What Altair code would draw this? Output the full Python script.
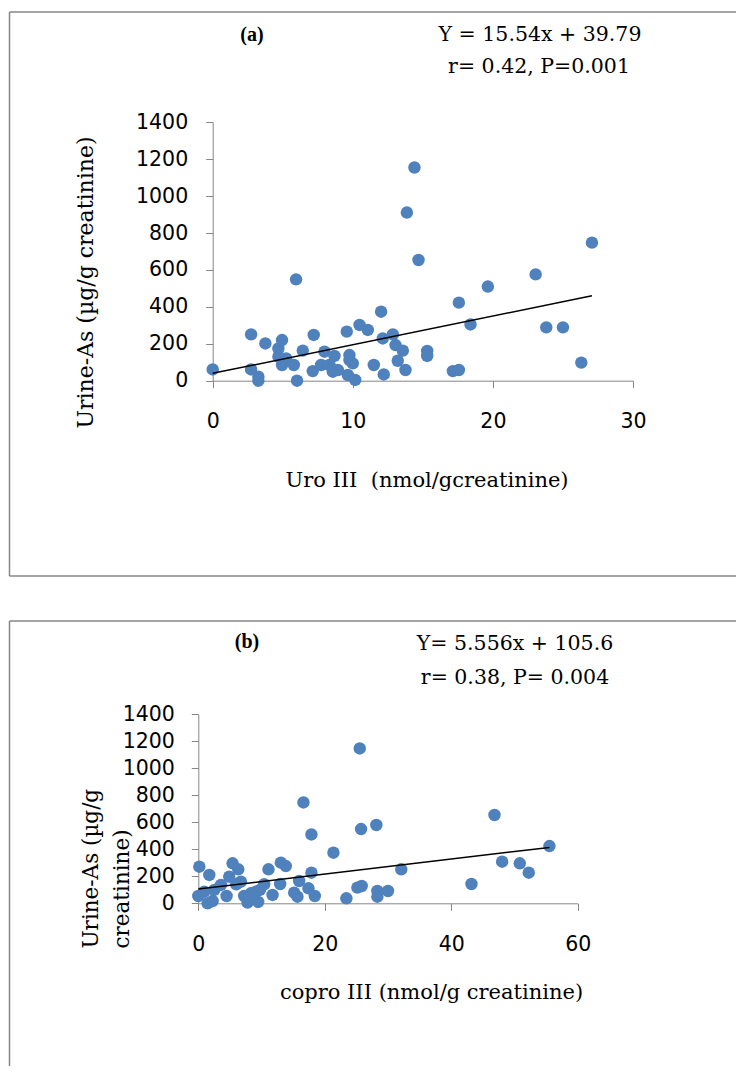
import altair as alt
import pandas as pd

# ---------------- data ----------------
# panel (a): Uro III vs urine As
uro_x = [0, 2.74, 2.74, 3.26, 3.26, 3.76, 4.69, 4.95, 4.69, 5.24, 4.95, 5.79, 5.95, 6.02,
         6.43, 7.21, 7.14, 7.98, 7.74, 8.33, 8.69, 8.93, 9.57, 9.76, 9.76, 9.64, 10.17,
         10.48, 11.07, 12.02, 11.5, 12.21, 12.14, 12.86, 13.05, 13.57, 13.21, 13.76, 13.86,
         14.4, 14.69, 15.31, 15.31, 17.14, 17.57, 17.57, 18.4, 19.64, 23.05, 23.81, 25.0,
         26.31, 27.07, 8.57, 10.0]
uro_as = [61, 251, 61, 22, 0, 202, 175, 220, 130, 121, 85, 85, 549, 0,
          163, 248, 52, 157, 85, 85, 134, 58, 266, 139, 112, 31, 4,
          302, 275, 374, 85, 34, 229, 251, 193, 163, 108, 58, 911,
          1155, 654, 161, 134, 52, 58, 423, 305, 510, 576, 289, 289,
          98, 748, 49, 94]

# panel (b): copro III vs urine As
copro_x = [0.16, 0, 0.95, 1.74, 1.47, 2.26, 2.53, 3.58, 4.47, 4.89, 5.42, 6.32, 6.74, 6.0,
           7.26, 7.79, 8.3, 9.47, 9.74, 10.42, 11.1, 11.74, 13.05, 13.84, 12.95, 15.16,
           15.68, 15.95, 16.63, 17.42, 17.89, 17.89, 18.42, 21.37, 23.42, 25.16, 25.84,
           25.53, 25.74, 28.16, 28.32, 28.32, 30.0, 32.1, 43.2, 46.84, 48.05, 50.84, 52.26,
           55.53, 9.1]
copro_as = [271, 54, 86, 210, 0, 17, 99, 136, 54, 197, 296, 252, 160, 141,
            54, 5, 74, 10, 99, 141, 252, 62, 301, 276, 143, 79,
            49, 165, 747, 111, 227, 510, 54, 375, 37, 116, 128,
            1147, 550, 580, 91, 49, 91, 252, 143, 654, 308, 296, 227,
            424, 86]

fit_a = [15.54, 39.79]      # slope, intercept
fit_b = [5.556, 105.6]

x_ticks_a = [0, 10, 20, 30]
x_ticks_b = [0, 20, 40, 60]
y_ticks = [0, 200, 400, 600, 800, 1000, 1200, 1400]

eq_a = ["Y = 15.54x + 39.79", "r= 0.42, P=0.001"]
eq_b = ["Y= 5.556x + 105.6", "r= 0.38, P= 0.004"]
panel_labels = ["(a)", "(b)"]
x_title_a = "Uro III\u00a0 (nmol/gcreatinine)"
x_title_b = "copro III (nmol/g creatinine)"
y_title_a = "Urine-As (µg/g creatinine)"
y_title_b = ["Urine-As (µg/g", "creatinine)"]

# ---------------- style ----------------
W, H = 727, 1058
BLUE = "#4F81BD"
GRAY = "#868686"
SERIF = "DejaVu Serif"
SANS = "DejaVu Sans"
ORIGIN = 8  # page margin


def panel(xs, ys, fit, xdom, xticks, xr, yr, xtitle, ytitle,
          xt_pos, yt_pos, yt_align, ylab_pad, yt_size):
    df = pd.DataFrame({"x": xs, "y": ys})
    lx = [min(xs), max(xs)]
    dfl = pd.DataFrame({"x": lx, "y": [fit[0] * v + fit[1] for v in lx]})
    X = alt.X("x:Q",
              scale=alt.Scale(domain=xdom, range=xr, nice=False, zero=False),
              axis=alt.Axis(orient="bottom", offset=yr[0] - H, values=xticks, format="d",
                            title=xtitle, titleX=xt_pos[0], titleY=xt_pos[1],
                            titleAlign="center", titleBaseline="alphabetic",
                            titleFont=SERIF, titleFontSize=21, titleFontWeight="normal",
                            titleColor="black", labelFont=SANS, labelFontSize=20.5,
                            labelColor="black", labelPadding=24, labelFlush=False,
                            labelOverlap=False, tickSize=7, tickColor=GRAY,
                            domainColor=GRAY, grid=False))
    Y = alt.Y("y:Q",
              scale=alt.Scale(domain=[0, 1400], range=yr, nice=False, zero=False),
              axis=alt.Axis(orient="left", offset=-xr[0], values=y_ticks, format="d",
                            title=ytitle, titleX=yt_pos[0], titleY=yt_pos[1],
                            titleAngle=270, titleAlign=yt_align, titleBaseline="middle",
                            titleLineHeight=31,
                            titleFont=SERIF, titleFontSize=yt_size, titleFontWeight="normal",
                            titleColor="black", labelFont=SANS, labelFontSize=20.5,
                            labelColor="black", labelPadding=ylab_pad, labelFlush=False,
                            labelOverlap=False, tickSize=7, tickColor=GRAY,
                            domainColor=GRAY, grid=False))
    pts = alt.Chart(df).mark_circle(size=155, color=BLUE, opacity=1).encode(x=X, y=Y)
    ln = alt.Chart(dfl).mark_line(color="black", strokeWidth=1.5).encode(x=X, y=Y)
    return alt.layer(pts, ln)


def txt(s, x, y, font, size, weight="normal"):
    return alt.Chart(pd.DataFrame({"t": [s]})).mark_text(
        font=font, fontSize=size, fontWeight=weight, align="center",
        baseline="alphabetic", color="black").encode(
        x=alt.value(x), y=alt.value(y), text="t:N")


def rule(x1, y1, x2, y2):
    return alt.Chart(pd.DataFrame({"a": [0]})).mark_rule(
        color=GRAY, strokeWidth=1.5).encode(
        x=alt.value(x1), y=alt.value(y1), x2=alt.value(x2), y2=alt.value(y2))


# pixel geometry (page coords minus margin)
xr_a = [211.7 - ORIGIN, 632.0 - ORIGIN]
yr_a = [380.7 - ORIGIN, 122.3 - ORIGIN]
xr_b = [197.3 - ORIGIN, 576.7 - ORIGIN]
yr_b = [903.3 - ORIGIN, 714.3 - ORIGIN]

pa = panel(uro_x, uro_as, fit_a, [0, 30], x_ticks_a, xr_a, yr_a, x_title_a, y_title_a,
           (425.5 - ORIGIN, 106), (84.4 - ORIGIN - xr_a[0], 282 - ORIGIN), "center", 18, 22)
pb = panel(copro_x, copro_as, fit_b, [0, 60], x_ticks_b, xr_b, yr_b, x_title_b, y_title_b,
           (430 - ORIGIN, 95), (90.5 - ORIGIN - xr_b[0], 948 - ORIGIN), "left", 17, 21.5)

frames = [
    rule(0.5, 4, W, 4), rule(0.5, 4, 0.5, 568), rule(0.5, 568, W, 568),
    rule(0.5, 613, W, 613), rule(0.5, 613, 0.5, H),
]
texts = [
    txt(panel_labels[0], 251 - ORIGIN, 33, "Liberation Serif", 20, "bold"),
    txt(eq_a[0], 539 - ORIGIN, 33, SERIF, 20.5),
    txt(eq_a[1], 538 - ORIGIN, 65, SERIF, 20.5),
    txt(panel_labels[1], 246 - ORIGIN, 640, "Liberation Serif", 20, "bold"),
    txt(eq_b[0], 514 - ORIGIN, 642, SERIF, 20.5),
    txt(eq_b[1], 514 - ORIGIN, 676, SERIF, 20.5),
]

chart = alt.layer(*frames, *texts, pa, pb).resolve_scale(
    x="independent", y="independent"
).properties(width=W, height=H, padding=0).configure_view(stroke=None)

chart.save("out.html", embed_options={"renderer": "svg", "actions": False})
